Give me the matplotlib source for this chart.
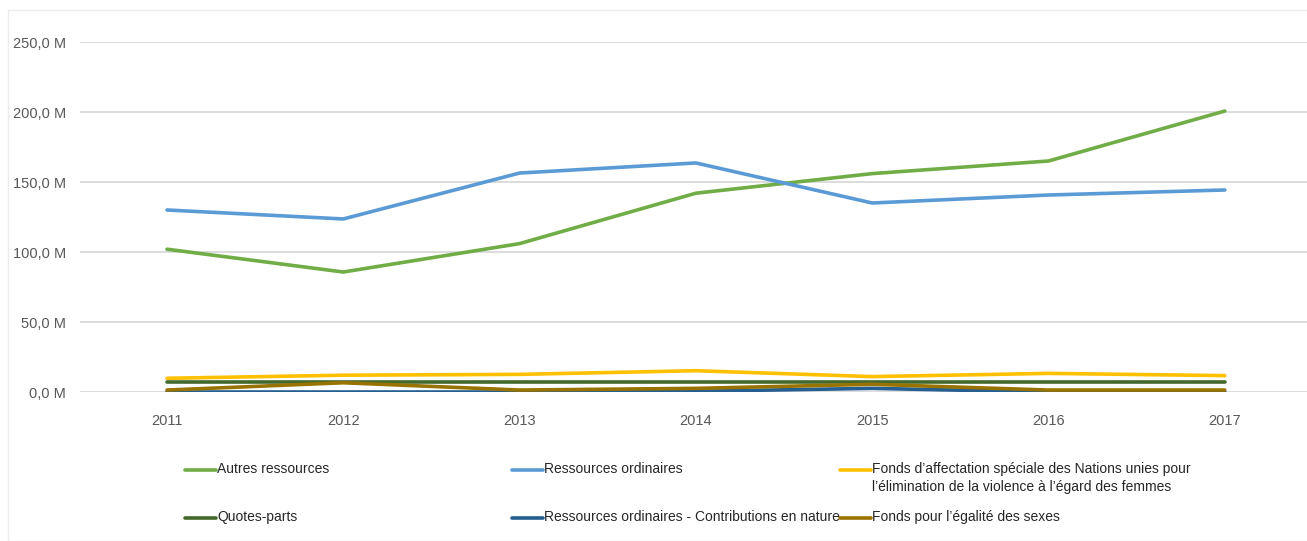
import matplotlib
matplotlib.use('Agg')
import matplotlib.pyplot as plt
from matplotlib.lines import Line2D
from matplotlib.patches import Rectangle
from matplotlib.ticker import FuncFormatter

# Contributions par source de financement, en millions
YEARS = [2011, 2012, 2013, 2014, 2015, 2016, 2017]

autres_ressources    = [102.0, 85.7, 106.0, 142.0, 156.0, 165.0, 200.7]
ressources_ordinaires = [130.0, 123.6, 156.4, 163.6, 135.0, 140.7, 144.3]
fonds_violence       = [9.8, 12.0, 12.6, 15.2, 11.0, 13.3, 11.7]
quotes_parts         = [7.4, 7.4, 7.4, 7.4, 7.4, 7.4, 7.4]
ro_nature            = [0.0, 0.0, 0.0, 0.5, 2.6, 0.0, 0.0]
fonds_egalite        = [1.4, 6.6, 1.4, 2.6, 5.5, 1.4, 1.4]

SERIES = [
    ("Autres ressources", autres_ressources, '#70AD47'),
    ("Ressources ordinaires", ressources_ordinaires, '#5B9BD5'),
    ("Fonds d’affectation spéciale des Nations unies pour\n"
     "l’élimination de la violence à l’égard des femmes", fonds_violence, '#FFC000'),
    ("Quotes-parts", quotes_parts, '#43682B'),
    ("Ressources ordinaires - Contributions en nature", ro_nature, '#255E91'),
    ("Fonds pour l’égalité des sexes", fonds_egalite, '#997300'),
]

Y_TICKS = [0, 50, 100, 150, 200, 250]

plt.rcParams['font.family'] = ['Liberation Sans', 'DejaVu Sans']

W, H = 1307, 541
fig = plt.figure(figsize=(W / 100, H / 100), dpi=100)

# faint outer frame of the chart area
fig.add_artist(Rectangle((8 / W, 0), 1.0, 1 - 10 / H, transform=fig.transFigure,
                         fill=False, edgecolor='#ECECEC', linewidth=1.0))

ax = fig.add_axes([80 / W, (H - 392) / H, (W - 80) / W, 350 / H])

for label, vals, color in SERIES:
    ax.plot(YEARS, vals, color=color, linewidth=2.6,
            solid_capstyle='round', solid_joinstyle='round', zorder=3)

# x positions: 2011 at 167px, spacing ~176.3px
step = 176.3
ax.set_xlim(2011 - 87 / step, 2011 + (W - 167) / step)
ax.set_ylim(0, 250)
ax.set_xticks(YEARS)
ax.set_yticks(Y_TICKS)
ax.yaxis.set_major_formatter(
    FuncFormatter(lambda v, _: f"{v:.1f} M".replace('.', ',')))

ax.grid(axis='y', color='#D9D9D9', linewidth=1.3, zorder=0)
ax.set_axisbelow(True)
for side in ax.spines.values():
    side.set_visible(False)
ax.tick_params(axis='both', length=0, labelsize=10.5, labelcolor='#595959')
ax.tick_params(axis='y', pad=10)
ax.tick_params(axis='x', pad=16)

# legend laid out in three columns, two rows
col_x = [185, 512, 840]
row_y = [470, 518]
for i, (label, vals, color) in enumerate(SERIES):
    r, c = divmod(i, 3)
    x0, y0 = col_x[c], row_y[r]
    fig.add_artist(Line2D([x0 / W, (x0 + 31) / W], [(H - y0) / H] * 2,
                          transform=fig.transFigure, color=color,
                          linewidth=2.6, solid_capstyle='round'))
    fig.text((x0 + 32) / W, (H - y0 + 8) / H, label, fontsize=10,
             color='#262626', va='top', ha='left', linespacing=1.4)

fig.savefig('out.png', dpi=100)
